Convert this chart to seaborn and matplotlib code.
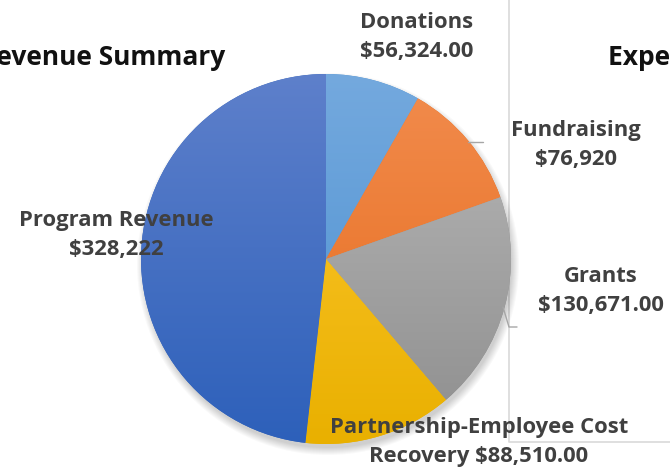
import numpy as np
import matplotlib.pyplot as plt
import seaborn as sns
from matplotlib.colors import LinearSegmentedColormap
from matplotlib.patches import Circle

# --- data ---
categories = ["Donations", "Fundraising", "Grants",
              "Partnership-Employee Cost Recovery", "Program Revenue"]
amounts = [56324.00, 76920, 130671.00, 88510.00, 328222]
label_texts = ["Donations\n$56,324.00",
               "Fundraising\n$76,920",
               "Grants\n$130,671.00",
               "Partnership-Employee Cost\nRecovery $88,510.00",
               "Program Revenue\n$328,222"]

# Office-style gradient fills (top colour, bottom colour)
top_colors = ["#74a9de", "#f28c4e", "#b9b9b9", "#ffc933", "#5e80cb"]
bottom_colors = ["#4a8fd0", "#e56a1a", "#8e8e8e", "#e9b000", "#2d60ba"]

W, H = 670, 473
cx, cy, r = 326, H - 259, 185
# label block centres (pixels from top-left)
label_pos = [(417, 37), (576, 145), (601, 291), (479, 442), (116, 235)]

sns.set_theme(style="white")
plt.rcParams['font.family'] = ['Open Sans', 'DejaVu Sans']

fig = plt.figure(figsize=(6.7, 4.73), dpi=100)
ax = fig.add_axes([0, 0, 1, 1])

# soft drop shadow
for k in range(8):
    ax.add_patch(Circle((cx + 2, cy - 5), r + 6 - k, color="black",
                        alpha=0.025, lw=0, zorder=1))

wedges, _ = ax.pie(amounts, center=(cx, cy), radius=r, startangle=90,
                   counterclock=False, colors=bottom_colors,
                   wedgeprops=dict(linewidth=0, zorder=2), frame=True)

grad = np.linspace(1, 0, 256).reshape(-1, 1)
for w, c_top, c_bot in zip(wedges, top_colors, bottom_colors):
    cmap = LinearSegmentedColormap.from_list("g", [c_bot, c_top])
    im = ax.imshow(grad, extent=(cx - r, cx + r, cy - r, cy + r), cmap=cmap,
                   origin="upper", aspect="auto", zorder=3, interpolation="bilinear")
    im.set_clip_path(w)

# data labels
for txt, (x, y) in zip(label_texts, label_pos):
    ax.text(x, H - y, txt, ha="center", va="center", fontsize=15.8,
            fontweight="bold", color="#404040", linespacing=1.45, zorder=5)

# leader lines
lc = "#a6a6a6"
ax.plot([468, 483], [H - 142, H - 142], color=lc, lw=1, zorder=4)
ax.plot([503, 509, 517], [H - 307, H - 327, H - 327], color=lc, lw=1, zorder=4)

# neighbouring chart frame
bc = "#d9d9d9"
ax.plot([509, 509, W + 5], [H + 5, H - 442, H - 442], color=bc, lw=1.2, zorder=0)

# titles (cut at the figure edges, as in the reference)
ax.text(225, H - 58, "Revenue Summary", ha="right", va="center",
        fontsize=19, fontweight="bold", color="#111111")
ax.text(608, H - 58, "Expenses Summary", ha="left", va="center",
        fontsize=19, fontweight="bold", color="#111111")

ax.set_xlim(0, W)
ax.set_ylim(0, H)
ax.set_aspect("equal")
ax.axis("off")

fig.savefig("out.png", dpi=100)
